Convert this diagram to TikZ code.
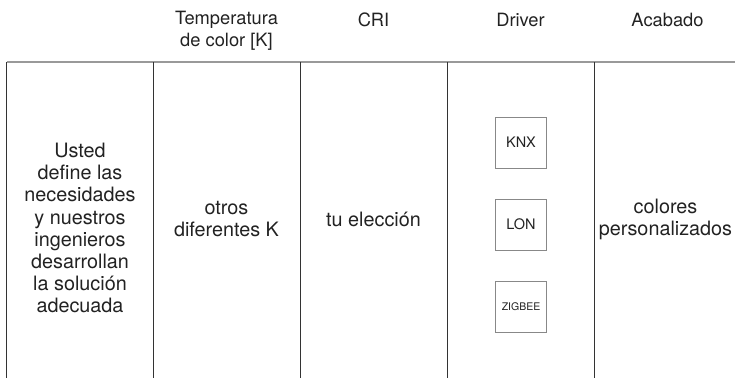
\documentclass[tikz,border=0pt]{standalone}
\usepackage{fontspec}
\setmainfont{TeX Gyre Heros}
\definecolor{txt}{HTML}{222222}
\definecolor{vline}{HTML}{333333}
\definecolor{hline}{HTML}{999999}
\definecolor{boxc}{HTML}{888888}
\tikzset{
  head/.style={text=txt, align=center, font=\fontsize{18.3}{22}\selectfont, inner sep=0pt},
  body/.style={text=txt, align=center, font=\fontsize{19.8}{22.1}\selectfont, inner sep=0pt},
  colline/.style={draw=vline, line width=1.3pt},
  rowline/.style={draw=hline, line width=1.3pt},
  drvbox/.style={draw=boxc, line width=0.8pt, minimum width=51pt, minimum height=51pt, inner sep=0pt, text=txt},
}
\begin{document}
\begin{tikzpicture}[x=1pt,y=-1pt]
\useasboundingbox (0,0) rectangle (735,378);
% table lines
\coordinate (tl) at (6.7,62);
\coordinate (tr) at (735,62);
\draw[rowline] (tl) -- (tr);
\foreach \x/\n in {6.7/a,153.3/b,300.3/c,447.3/d,594.3/e}{
  \coordinate (top\n) at (\x,62);
  \coordinate (bot\n) at (\x,378);
  \draw[colline] (top\n) -- (bot\n);
}
% headers
\node[head] (h1) at (226.5,31) {Temperatura\\de color [K]};
\node[head] (h2) at (373.5,20) {CRI};
\node[head] (h3) at (520.5,20) {Driver};
\node[head] (h4) at (667.5,20) {Acabado};
% body
\node[body] (b1) at (80,228) {Usted\\define las\\necesidades\\y nuestros\\ingenieros\\desarrollan\\la soluci\'on\\adecuada};
\node[body] (b2) at (226.5,219) {otros\\diferentes K};
\node[body] (b3) at (373.5,219) {tu elecci\'on};
\node[body] (b4) at (665.5,219) {colores\\personalizados};
% driver boxes
\node[drvbox, font=\fontsize{14.5}{16}\selectfont] (knx) at (521,142.5) {KNX};
\node[drvbox, font=\fontsize{14.5}{16}\selectfont] (lon) at (521,224.5) {LON};
\node[drvbox, font=\fontsize{10.5}{12}\selectfont] (zig) at (521,306.5) {ZIGBEE};
\end{tikzpicture}
\end{document}
